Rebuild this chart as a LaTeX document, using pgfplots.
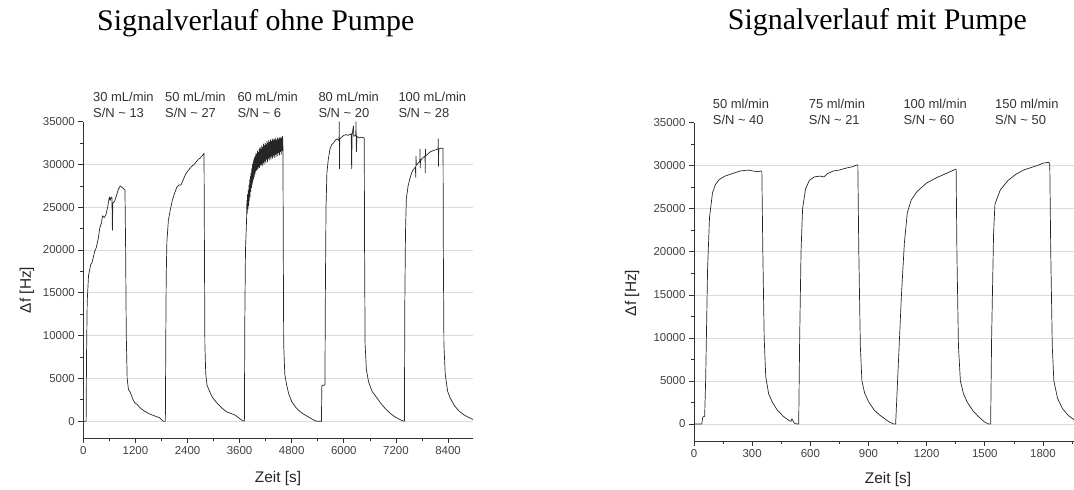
\documentclass[border=0pt]{standalone}
\usepackage{fontspec}
\setmainfont{Liberation Sans}
\newfontfamily\titlefont{Liberation Serif}
\usepackage{pgfplots}
\pgfplotsset{compat=1.18}
\pgfplotsset{
 sigline/.style={black!85, line width=0.7pt, line join=round, mark=none},
 sigstyle/.style={
  scale only axis,
  axis x line*=bottom, axis y line*=left,
  axis line style={black!80, line width=0.8pt},
  tick align=outside, major tick length=5bp, minor tick length=3bp,
  tick style={black!80, line width=0.7pt},
  ymin=-2000, ymax=35000,
  ytick={0,5000,...,30000}, extra y ticks={35000}, extra y tick style={grid=none},
  minor ytick={2500,7500,...,32500},
  scaled ticks=false,
  ymajorgrids, major grid style={black!14, line width=0.7pt},
  tick label style={font=\fontsize{11.5}{13}\selectfont, text=black!75},
  /pgf/number format/1000 sep={}, /pgf/number format/assume math mode=true,
  no markers,
 }}
\begin{document}
\begin{tikzpicture}
\path[use as bounding box] (0bp,0bp) rectangle (1074bp,490bp);
% ---------------- left: ohne Pumpe ----------------
\begin{axis}[sigstyle, at={(83.3bp,51.7bp)}, anchor=south west,
  width=389.7bp, height=316.6bp, xmin=0, xmax=8975,
  xtick={0,1200,...,8400}, minor xtick={600,1800,...,8400}]
\addplot[sigline] table {
x y
0 0
55 0
65 0
75 8000
90 14000
120 17000
170 18300
200 18500
260 19800
300 20300
350 21500
380 22600
420 23200
440 24000
480 23800
520 24100
560 25000
600 26200
620 25800
640 26200
660 26100
670 22300
680 25500
720 25700
760 26300
800 27000
850 27500
900 27300
960 27000
975 20000
990 10000
1010 5000
1040 3700
1080 3400
1130 2700
1180 2200
1250 1900
1320 1500
1400 1200
1500 900
1600 700
1700 500
1760 400
1800 200
1840 0
1890 0
1900 10000
1910 17000
1925 21000
1960 23500
2000 24600
2050 25800
2100 26600
2150 27300
2200 27600
2250 27600
2300 28200
2350 28800
2400 29200
2450 29500
2500 29800
2550 30000
2600 30300
2650 30600
2700 30800
2750 31100
2780 31300
2790 20000
2800 9000
2820 5500
2850 4200
2900 3600
2950 3000
3000 2600
3100 2000
3200 1500
3300 1100
3400 900
3500 700
3600 300
3660 100
3700 0
3710 0
3720 12000
3735 20000
3760 23500
3768 25800
3776 24300
3784 26500
3792 24800
3800 27000
3808 25200
3816 27600
3824 25800
3832 28200
3840 26200
3848 28600
3856 26800
3864 29000
3872 27300
3880 29500
3888 27600
3896 30000
3904 28000
3912 30300
3920 28300
3928 30600
3936 28600
3944 30800
3952 28900
3960 31000
3968 29200
3976 31300
3984 29300
3992 31200
4000 29400
4010 31600
4020 29500
4030 31400
4040 29700
4050 31800
4060 29600
4070 32000
4080 29900
4090 31800
4100 30000
4110 32200
4120 29800
4130 32000
4140 30200
4150 32400
4160 30000
4170 32200
4180 30400
4190 32500
4200 30200
4210 32300
4220 30600
4230 32700
4240 30300
4250 32500
4260 30700
4270 32800
4280 30500
4290 32600
4300 30900
4310 32900
4320 30600
4330 32700
4340 31000
4350 33000
4360 30700
4370 32800
4380 31100
4390 33000
4400 30800
4410 32900
4420 31200
4430 33100
4440 30900
4450 32800
4460 31300
4470 33100
4480 31000
4490 32900
4500 31400
4510 33200
4520 31100
4530 33000
4540 31500
4550 33200
4560 31200
4570 33100
4580 31600
4590 33300
4598 32000
4606 20000
4615 9000
4640 5500
4680 4300
4730 3200
4800 2300
4880 1700
4950 1300
5050 900
5150 600
5250 300
5320 100
5380 0
5485 0
5492 4000
5500 4200
5555 4200
5565 4300
5575 15000
5590 25000
5610 29000
5640 30500
5680 31800
5720 32300
5760 32500
5800 32800
5840 33000
5890 32800
5895 35000
5900 29500
5905 33000
5950 33200
6000 33400
6050 33500
6100 33400
6170 33600
6180 29500
6190 33400
6220 34500
6230 33300
6275 33400
6280 35000
6290 31500
6300 33300
6350 33100
6400 33200
6470 33100
6478 20000
6490 9000
6520 6000
6570 4600
6650 3500
6750 2800
6850 2100
6950 1500
7050 1000
7150 600
7250 300
7330 100
7380 0
7395 0
7405 14000
7420 22000
7440 26000
7480 27500
7520 28300
7560 29000
7600 29400
7650 29700
7655 28500
7662 31000
7670 29900
7750 30400
7755 31800
7760 29600
7765 30400
7800 30700
7870 31000
7875 29000
7880 31800
7885 31000
7950 31300
8000 31500
8050 31600
8100 31700
8170 31800
8175 33000
8180 29800
8185 31800
8240 31900
8285 31900
8292 20000
8305 9000
8335 5500
8390 3500
8450 2700
8550 1800
8650 1200
8750 800
8850 500
8950 250
8975 200
};
\end{axis}
% ---------------- right: mit Pumpe ----------------
\begin{axis}[sigstyle, at={(694bp,48.8bp)}, anchor=south west,
  width=380bp, height=318.5bp, xmin=0, xmax=1960,
  xtick={0,300,...,1800}, minor xtick={150,450,...,1950}]
\addplot[sigline] table {
x y
0 0
40 0
45 800
55 900
60 5000
70 18000
80 24000
95 26800
110 27800
130 28400
160 28800
200 29100
240 29400
280 29500
300 29400
330 29300
345 29400
350 29300
355 20000
362 10000
370 5500
385 3500
405 2500
430 1600
460 900
490 400
500 300
505 600
512 300
520 50
535 0
540 0
545 10000
552 20000
560 25000
575 27300
595 28300
620 28700
650 28800
670 28700
690 29100
720 29400
750 29500
780 29700
800 29800
820 29900
840 30100
845 30100
850 20000
858 9000
866 5000
880 3600
900 2600
930 1600
960 1000
990 500
1010 200
1030 0
1040 0
1050 5000
1070 15000
1085 21000
1100 24500
1120 26000
1150 27000
1200 28000
1250 28600
1300 29100
1340 29500
1352 29600
1356 20000
1364 9000
1374 5000
1390 3500
1410 2500
1440 1500
1470 800
1500 200
1520 0
1530 0
1535 10000
1545 22000
1552 25500
1560 26000
1580 27200
1620 28300
1660 29000
1700 29500
1740 29800
1780 30100
1800 30300
1830 30400
1835 30200
1840 20000
1848 9000
1856 5000
1875 3000
1900 1800
1930 1000
1960 500
};
\end{axis}
% ---------------- titles ----------------
\node[anchor=base west, inner sep=0] at (97bp,459bp) {\titlefont\fontsize{30}{34}\selectfont Signalverlauf ohne Pumpe};
\node[anchor=base east, inner sep=0] at (1027bp,460bp) {\titlefont\fontsize{30}{34}\selectfont Signalverlauf mit Pumpe};
% ---------------- axis labels ----------------
\begin{scope}[every node/.style={inner sep=0, text=black!85, font=\fontsize{15.5}{17}\selectfont}]
\node[anchor=base] at (278bp,8bp) {Zeit [s]};
\node[anchor=base] at (888bp,7bp) {Zeit [s]};
\node[rotate=90] at (27bp,200bp) {Δf [Hz]};
\node[rotate=90] at (632bp,197bp) {Δf [Hz]};
\end{scope}
% ---------------- annotations ----------------
\begin{scope}[every node/.style={inner sep=0, anchor=base west, text=black!80, font=\fontsize{13}{15}\selectfont}]
\node at (93bp,388.3bp) {30 mL/min};
\node at (93bp,372bp) {S/N \textasciitilde{} 13};
\node at (165bp,388.3bp) {50 mL/min};
\node at (165bp,372bp) {S/N \textasciitilde{} 27};
\node at (237.3bp,388.3bp) {60 mL/min};
\node at (237.3bp,372bp) {S/N \textasciitilde{} 6};
\node at (318.3bp,388.3bp) {80 mL/min};
\node at (318.3bp,372bp) {S/N \textasciitilde{} 20};
\node at (398.3bp,388.3bp) {100 mL/min};
\node at (398.3bp,372bp) {S/N \textasciitilde{} 28};
\node at (712.7bp,381bp) {50 ml/min};
\node at (712.7bp,365bp) {S/N \textasciitilde{} 40};
\node at (808.7bp,381bp) {75 ml/min};
\node at (808.7bp,365bp) {S/N \textasciitilde{} 21};
\node at (903.3bp,381bp) {100 ml/min};
\node at (903.3bp,365bp) {S/N \textasciitilde{} 60};
\node at (995bp,381bp) {150 ml/min};
\node at (995bp,365bp) {S/N \textasciitilde{} 50};
\end{scope}
\end{tikzpicture}
\end{document}
